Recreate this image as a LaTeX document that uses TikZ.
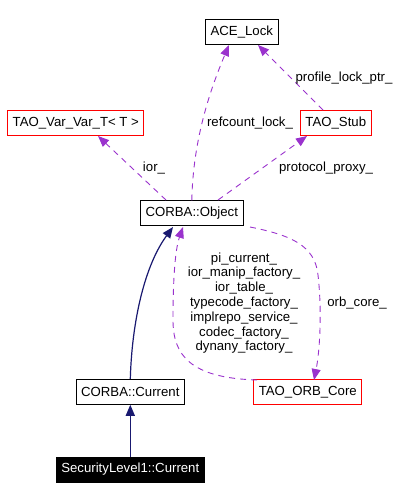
\documentclass[tikz,border=0pt]{standalone}
\usepackage{fontspec}
\setmainfont{Liberation Sans}
\usetikzlibrary{arrows.meta}
\definecolor{usecolor}{RGB}{154,50,205}
\definecolor{basecolor}{RGB}{25,25,112}

\begin{document}
\begin{tikzpicture}[x=1pt,y=-1pt,
				font=\fontsize{13.2}{14.8}\selectfont,
				klass/.style={draw=black,line width=0.9pt,inner xsep=5pt,inner ysep=0pt,minimum height=25pt},
				undoc/.style={klass,draw=red},
				self/.style={klass,fill=black,text=white},
				base/.style={draw=basecolor,line width=1.2pt,-{Triangle[length=11pt,width=9pt]}},
				member/.style={draw=usecolor,line width=0.9pt,dash pattern=on 6pt off 5pt,-{Triangle[length=11pt,width=9pt]}},
				tag/.style={inner sep=0pt,align=center}]
				\useasboundingbox (0,0) rectangle (419,499);
				\node[klass] (acelock) at (241.8,31.8) {ACE\_Lock};
				\node[undoc] (varvar) at (75.8,123) {TAO\_Var\_Var\_T< T >};
				\node[undoc] (stub) at (335.8,123) {TAO\_Stub};
				\node[klass] (object) at (191.8,213.3) {CORBA::Object};
				\node[klass] (current) at (130.3,391.8) {CORBA::Current};
				\node[undoc] (orbcore) at (307.8,391.8) {TAO\_ORB\_Core};
				\node[self] (security) at (130.3,469.5) {SecurityLevel1::Current};

				\draw[base] (security) -- (current);
				\draw[base] (current.north) .. controls (132,320) and (145,265) .. (173,227);
				\draw[member] (object.north) .. controls (193,140) and (210,90) .. (229,45);
				\draw[member] (166,200) -- (98,136);
				\draw[member] (218,200) -- (307,136);
				\draw[member] (323,110) -- (258,45);
				\draw[member] (250,227) .. controls (290,235) and (315,245) .. (318,275)
					.. controls (322,310) and (320,350) .. (314,380);
				\draw[member] (257,380) .. controls (190,378) and (173,355) .. (173,320)
					.. controls (173,280) and (175,250) .. (183,227);

				\node[tag] (lockptr) at (344,78) {profile\_lock\_ptr\_};
				\node[tag] (refcount) at (250,123) {refcount\_lock\_};
				\node[tag] (ior) at (154,168) {ior\_};
				\node[tag] (proxy) at (326,168) {protocol\_proxy\_};
				\node[tag] (orbref) at (357,303) {orb\_core\_};
				\node[tag] (services) at (244,303) {pi\_current\_\\ior\_manip\_factory\_\\ior\_table\_\\typecode\_factory\_\\implrepo\_service\_\\codec\_factory\_\\dynany\_factory\_};
\end{tikzpicture}
\end{document}
